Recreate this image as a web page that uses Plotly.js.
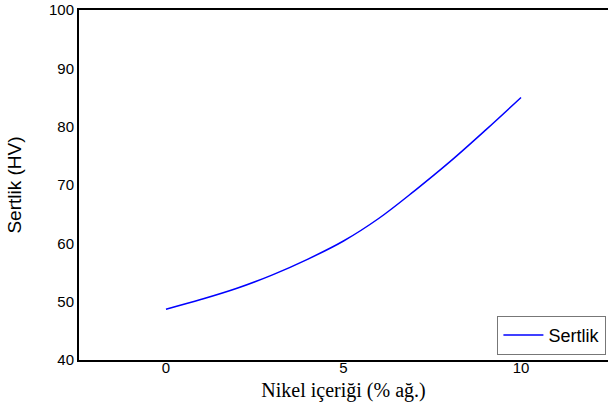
<!DOCTYPE html>
<html><head><meta charset="utf-8">
<script src="https://cdn.plot.ly/plotly-3.0.1.min.js"></script>
<style>html,body{margin:0;padding:0;background:#fff}</style>
</head><body>
<div id="chart" style="width:608px;height:410px"></div>
<script>
const nickel = [0, 1, 2, 3, 4, 5, 6, 7, 8, 9, 10];
const hardness = [48.7, 50.4, 52.3, 54.6, 57.3, 60.4, 64.3, 69.0, 74.0, 79.4, 85.0];
const seriesName = 'Sertlik';
const xTicks = [0, 5, 10];
const yTicks = [40, 50, 60, 70, 80, 90, 100];

Plotly.newPlot('chart', [{
  x: nickel, y: hardness, name: seriesName, type: 'scatter', mode: 'lines',
  line: {color: '#0000ff', width: 1.5, shape: 'spline'}, showlegend: true
}], {
  width: 608, height: 410,
  margin: {l: 79, r: 0, t: 10, b: 50},
  paper_bgcolor: '#fff', plot_bgcolor: '#fff',
  xaxis: {
    range: [-2.45, 12.45], tickvals: xTicks, ticktext: xTicks.map(String),
    showgrid: false, zeroline: false, showline: true, linecolor: '#000', linewidth: 2,
    mirror: true, ticks: '', ticklabelstandoff: -7,
    tickfont: {family: 'Liberation Sans, Arial, sans-serif', size: 15, color: '#000'},
    title: {text: 'Nikel içeriği (% ağ.)', standoff: 8,
      font: {family: 'Liberation Serif, Times New Roman, serif', size: 20, color: '#000'}}
  },
  yaxis: {
    range: [40, 100], tickvals: yTicks, ticktext: yTicks.map(String),
    showgrid: false, zeroline: false, showline: true, linecolor: '#000', linewidth: 2,
    ticks: '', ticklabelstandoff: 0,
    tickfont: {family: 'Liberation Sans, Arial, sans-serif', size: 15, color: '#000'},
    title: {text: 'Sertlik (HV)', standoff: 22,
      font: {family: 'Liberation Sans, Arial, sans-serif', size: 19, color: '#000'}}
  },
  legend: {
    x: 0.997, xanchor: 'right', y: 0.015, yanchor: 'bottom',
    bgcolor: '#fff', bordercolor: '#777', borderwidth: 1,
    font: {family: 'Liberation Sans, Arial, sans-serif', size: 18, color: '#000'},
    tracegroupgap: 0, itemwidth: 40
  }
}, {staticPlot: true});
</script>
</body></html>
